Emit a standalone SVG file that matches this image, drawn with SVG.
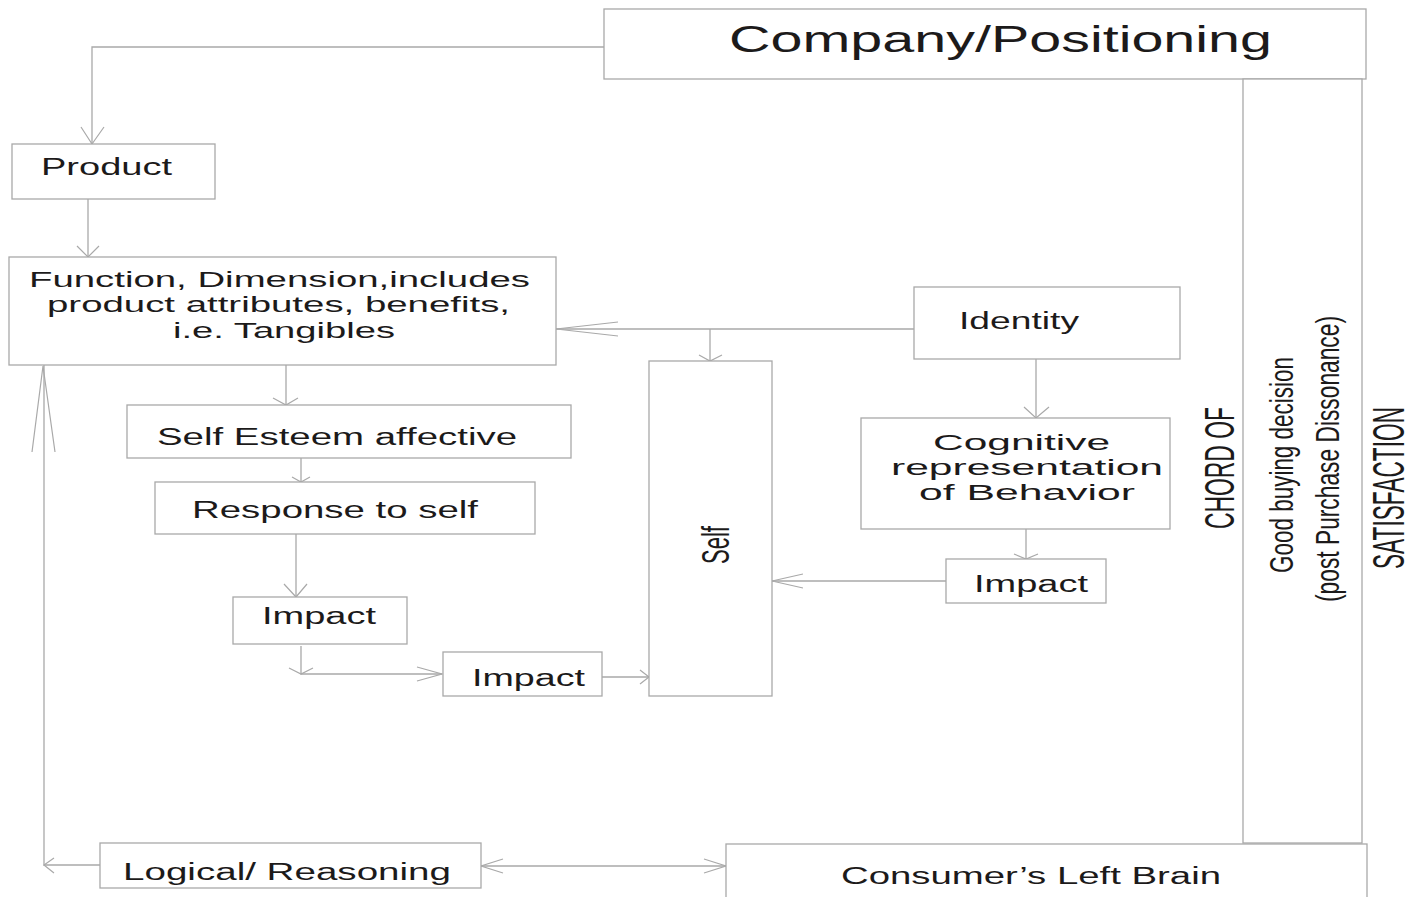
<svg xmlns="http://www.w3.org/2000/svg" width="1420" height="897" viewBox="0 0 1420 897">
  <style>
    .box { fill: #ffffff; stroke: #a9a9a9; stroke-width: 1.3; }
    .line { fill: none; stroke: #a9a9a9; stroke-width: 1.3; }
    .head { fill: none; stroke: #a9a9a9; stroke-width: 1.2; stroke-linejoin: miter; }
    .label { font-family: "Liberation Sans", Arial, sans-serif; fill: #1c1a1a; font-size: 23px; }
    .multi { font-size: 22px; }
    .big { font-size: 37px; }
    .tall { font-family: "Liberation Sans", Arial, sans-serif; fill: #1c1a1a; text-anchor: middle; }
  </style>
  <rect width="1420" height="897" fill="#ffffff"/>

  <!-- connectors -->
  <g id="connectors">
    <!-- Company/Positioning to Product -->
    <path class="line" d="M604,47 H92 V144"/>
    <path class="head" d="M81,127 L92,144 L104,127"/>
    <!-- Product to Function -->
    <path class="line" d="M88,199 V257"/>
    <path class="head" d="M77,246 L88,257 L99,246"/>
    <!-- Identity to Function, with branch down to Self -->
    <path class="line" d="M914,329 H556"/>
    <path class="head" d="M618,322 L556,329 L618,336"/>
    <path class="line" d="M710,329 V361"/>
    <path class="head" d="M699,355 L710,361 L722,355"/>
    <!-- Identity to Cognitive representation -->
    <path class="line" d="M1036,359 V418"/>
    <path class="head" d="M1024,407 L1036,418 L1049,407"/>
    <!-- Cognitive representation to Impact -->
    <path class="line" d="M1026,529 V559"/>
    <path class="head" d="M1014,554 L1026,559 L1038,554"/>
    <!-- Impact to Self -->
    <path class="line" d="M946,581 H772"/>
    <path class="head" d="M803,574 L772,581 L803,588"/>
    <!-- Function to Self Esteem affective -->
    <path class="line" d="M286,365 V405"/>
    <path class="head" d="M273,398 L286,405 L298,398"/>
    <!-- Self Esteem affective to Response to self -->
    <path class="line" d="M301,458 V482"/>
    <path class="head" d="M292,477 L301,482 L310,477"/>
    <!-- Response to self to Impact -->
    <path class="line" d="M296,534 V597"/>
    <path class="head" d="M284,584 L296,597 L307,584"/>
    <!-- Impact to Impact -->
    <path class="line" d="M301,646 V674 H442"/>
    <path class="head" d="M289,668 L301,674 L313,668"/>
    <path class="head" d="M417,667 L442,674 L417,681"/>
    <!-- Impact to Self -->
    <path class="line" d="M602,677 H649"/>
    <path class="head" d="M640,670 L649,677 L640,684"/>
    <!-- Logical/ Reasoning back up to Function -->
    <path class="line" d="M100,865 H44 V365"/>
    <path class="head" d="M54,858 L44,865 L54,873"/>
    <path class="head" d="M32,452 L43,366 L55,452"/>
    <!-- Logical/ Reasoning to Consumer's Left Brain, both ways -->
    <path class="line" d="M481,866 H726"/>
    <path class="head" d="M503,859 L481,866 L503,873"/>
    <path class="head" d="M704,859 L726,866 L704,873"/>
  </g>

  <g id="company">
    <rect class="box" x="604" y="9" width="762" height="70"/>
    <text class="label big" x="729" y="52" textLength="543" lengthAdjust="spacingAndGlyphs">Company/Positioning</text>
  </g>

  <g id="satisfaction">
    <rect class="box" x="1243" y="79" width="119" height="764"/>
    <text class="tall" font-size="42" transform="translate(1234,468) rotate(-90)" textLength="122" lengthAdjust="spacingAndGlyphs">CHORD OF</text>
    <text class="tall" font-size="33" transform="translate(1293,465) rotate(-90)" textLength="216" lengthAdjust="spacingAndGlyphs">Good buying decision</text>
    <text class="tall" font-size="33" transform="translate(1339,459) rotate(-90)" textLength="286" lengthAdjust="spacingAndGlyphs">(post Purchase Dissonance)</text>
    <text class="tall" font-size="44" transform="translate(1404,488) rotate(-90)" textLength="162" lengthAdjust="spacingAndGlyphs">SATISFACTION</text>
  </g>

  <g id="product">
    <rect class="box" x="12" y="144" width="203" height="55"/>
    <text class="label" x="41" y="175" textLength="131" lengthAdjust="spacingAndGlyphs">Product</text>
  </g>

  <g id="function">
    <rect class="box" x="9" y="257" width="547" height="108"/>
    <text class="label multi" x="29" y="287" textLength="501" lengthAdjust="spacingAndGlyphs">Function, Dimension,includes</text>
    <text class="label multi" x="47" y="312" textLength="463" lengthAdjust="spacingAndGlyphs">product attributes, benefits,</text>
    <text class="label multi" x="173" y="338" textLength="222" lengthAdjust="spacingAndGlyphs">i.e. Tangibles</text>
  </g>

  <g id="identity">
    <rect class="box" x="914" y="287" width="266" height="72"/>
    <text class="label" x="959" y="329" textLength="120" lengthAdjust="spacingAndGlyphs">Identity</text>
  </g>

  <g id="self">
    <rect class="box" x="649" y="361" width="123" height="335"/>
    <text class="tall" font-size="38" transform="translate(729,545) rotate(-90)" textLength="38" lengthAdjust="spacingAndGlyphs">Self</text>
  </g>

  <g id="cognitive">
    <rect class="box" x="861" y="418" width="309" height="111"/>
    <text class="label multi" x="933" y="450" textLength="177" lengthAdjust="spacingAndGlyphs">Cognitive</text>
    <text class="label multi" x="891" y="475" textLength="272" lengthAdjust="spacingAndGlyphs">representation</text>
    <text class="label multi" x="919" y="500" textLength="216" lengthAdjust="spacingAndGlyphs">of Behavior</text>
  </g>

  <g id="impact-behavior">
    <rect class="box" x="946" y="559" width="160" height="44"/>
    <text class="label" x="974" y="592" textLength="114" lengthAdjust="spacingAndGlyphs">Impact</text>
  </g>

  <g id="self-esteem">
    <rect class="box" x="127" y="405" width="444" height="53"/>
    <text class="label" x="157" y="445" textLength="360" lengthAdjust="spacingAndGlyphs">Self Esteem affective</text>
  </g>

  <g id="response">
    <rect class="box" x="155" y="482" width="380" height="52"/>
    <text class="label" x="192" y="518" textLength="286" lengthAdjust="spacingAndGlyphs">Response to self</text>
  </g>

  <g id="impact-response">
    <rect class="box" x="233" y="597" width="174" height="47"/>
    <text class="label" x="262" y="624" textLength="114" lengthAdjust="spacingAndGlyphs">Impact</text>
  </g>

  <g id="impact-self">
    <rect class="box" x="443" y="652" width="159" height="44"/>
    <text class="label" x="472" y="686" textLength="113" lengthAdjust="spacingAndGlyphs">Impact</text>
  </g>

  <g id="logical">
    <rect class="box" x="100" y="843" width="381" height="45"/>
    <text class="label" x="123" y="880" textLength="328" lengthAdjust="spacingAndGlyphs">Logical/ Reasoning</text>
  </g>

  <g id="left-brain">
    <rect class="box" x="726" y="844" width="641" height="70"/>
    <text class="label" x="841" y="884" textLength="380" lengthAdjust="spacingAndGlyphs">Consumer’s Left Brain</text>
  </g>
</svg>
